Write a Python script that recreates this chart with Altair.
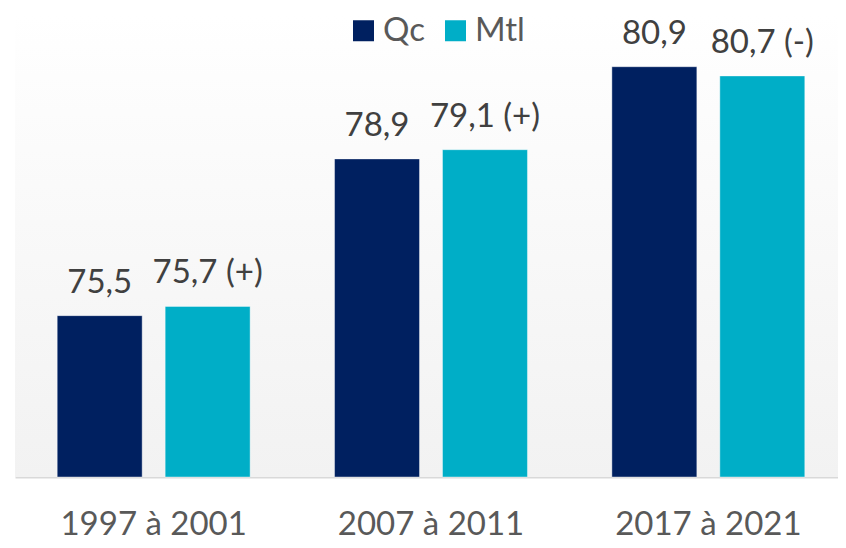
import altair as alt
import pandas as pd

periods = ["1997 à 2001", "2007 à 2011", "2017 à 2021"]
series = ["Qc", "Mtl"]
qc_values = [75.5, 78.9, 80.9]
mtl_values = [75.7, 79.1, 80.7]
mtl_signs = ["(+)", "(+)", "(-)"]
colors = ["#002060", "#00AEC7"]

rows = []
for p, q, m, s in zip(periods, qc_values, mtl_values, mtl_signs):
    rows.append({"period": p, "series": "Qc", "value": q,
                 "label": f"{q:.1f}".replace(".", ",")})
    rows.append({"period": p, "series": "Mtl", "value": m,
                 "label": f"{m:.1f}".replace(".", ",") + " " + s})
df = pd.DataFrame(rows)

W, H = 823, 461
XR = 832
FONT = "Lato"

x = alt.X("period:N", sort=periods,
          scale=alt.Scale(paddingInner=0, paddingOuter=0, range=[0, XR]),
          axis=alt.Axis(title=None, labelAngle=0, ticks=False, labelLimit=0,
                        domainColor="#d9d9d9", domainWidth=2,
                        labelFontSize=33, labelFont=FONT, labelColor="#595959",
                        labelPadding=31))
xoff = alt.XOffset("series:N", sort=series,
                   scale=alt.Scale(paddingInner=0.213, paddingOuter=0.391))
y = alt.Y("value:Q", scale=alt.Scale(domain=[72, 82], zero=False, nice=False),
          axis=None)

bg = alt.Chart(pd.DataFrame({"a": [0]})).mark_rect(
    fill=alt.Gradient(gradient="linear",
                      stops=[alt.GradientStop(color="#ffffff", offset=0),
                             alt.GradientStop(color="#fdfdfd", offset=0.13),
                             alt.GradientStop(color="#f2f2f2", offset=1)],
                      x1=0, x2=0, y1=0, y2=1)
).encode(x=alt.value(0), x2=alt.value(XR), y=alt.value(0), y2=alt.value(H))

base = alt.Chart(df)

bars = base.mark_bar(stroke="#ffffff", strokeOpacity=0.4, strokeWidth=1).encode(
    x=x, xOffset=xoff, y=y, y2=alt.datum(72),
    color=alt.Color("series:N", sort=series,
                    scale=alt.Scale(domain=series, range=colors),
                    legend=alt.Legend(title=None, orient="none", direction="horizontal",
                                      legendX=332, legendY=-2, padding=0,
                                      symbolType="square", symbolSize=441,
                                      symbolStrokeWidth=0, symbolOpacity=1,
                                      labelFontSize=33, labelFont=FONT,
                                      labelColor="#595959", labelOffset=3,
                                      columnPadding=14))
)

text = base.mark_text(baseline="alphabetic", dy=-23, fontSize=33, font=FONT,
                      color="#404040").encode(
    x=x, xOffset=xoff, y=y, text="label:N"
)

chart = alt.layer(bg, bars, text).properties(
    width=W, height=H,
    autosize=alt.AutoSizeParams(type="none"),
    padding={"left": 7, "top": 8, "right": 0, "bottom": 63},
).configure_view(stroke=None)

chart.save("out.html", embed_options={"renderer": "svg", "actions": False})
